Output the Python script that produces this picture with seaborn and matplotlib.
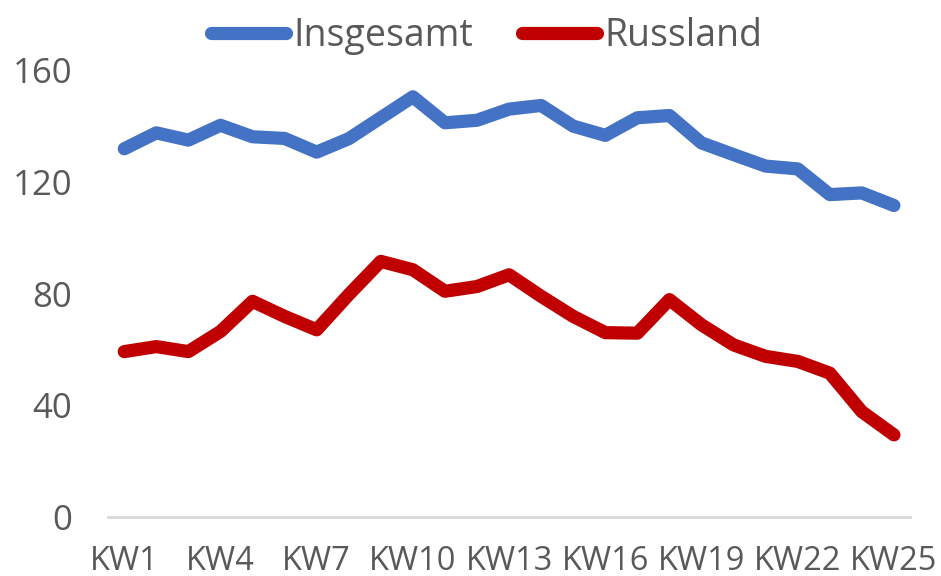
import matplotlib.pyplot as plt
import pandas as pd
import seaborn as sns

# Kalenderwochen
wochen = ["KW" + str(i) for i in range(1, 26)]

insgesamt = [131.8, 137.5, 134.9, 140.2, 136.1, 135.5, 130.6, 135.4, 142.9, 150.4,
             141.1, 142.0, 146.0, 147.3, 139.9, 136.6, 142.9, 143.7, 133.9, 129.7,
             125.6, 124.6, 115.4, 116.0, 111.5]
russland = [59.2, 61.0, 59.2, 66.4, 77.2, 71.8, 67.0, 79.6, 91.5, 88.5,
            80.8, 82.5, 86.7, 79.0, 71.8, 66.0, 65.8, 77.8, 68.8, 61.6,
            57.5, 55.7, 51.5, 37.7, 29.4]

tick_labels = wochen[::3]

df = pd.DataFrame({"Woche": wochen, "Insgesamt": insgesamt, "Russland": russland})
df_long = df.melt(id_vars="Woche", var_name="Serie", value_name="Wert")

sns.set_style("white")
plt.rcParams['font.family'] = ['Open Sans', 'DejaVu Sans']

fig = plt.figure(figsize=(9.41, 5.76), dpi=100)
ax = fig.add_axes([0.115, 0.1024, 0.852, 0.7761])

sns.lineplot(data=df_long, x="Woche", y="Wert", hue="Serie",
             palette={"Insgesamt": "#4472C4", "Russland": "#C00000"},
             linewidth=9.5, ax=ax, sort=False)
for line in ax.get_lines():
    line.set_solid_joinstyle("round")
    line.set_solid_capstyle("round")

ax.set_xlim(-0.5, 24.5)
ax.set_ylim(0, 160)
ax.set_yticks([0, 40, 80, 120, 160])
ax.set_xticks(range(0, 25, 3))
ax.set_xticklabels(tick_labels)
ax.set_xlabel("")
ax.set_ylabel("")
ax.tick_params(axis="y", length=0, labelsize=25, colors="#595959", pad=26)
ax.tick_params(axis="x", length=0, labelsize=23.5, colors="#595959", pad=20)

for s in ["top", "right", "left"]:
    ax.spines[s].set_visible(False)
ax.spines["bottom"].set_color("#D9D9D9")
ax.spines["bottom"].set_linewidth(2)

ax.legend(loc="center", bbox_to_anchor=(0.472, 1.075), ncol=2, frameon=False,
          fontsize=27, labelcolor="#595959", handlelength=2.0, handletextpad=0.2,
          columnspacing=1.3)

plt.savefig("out.png", dpi=100)
